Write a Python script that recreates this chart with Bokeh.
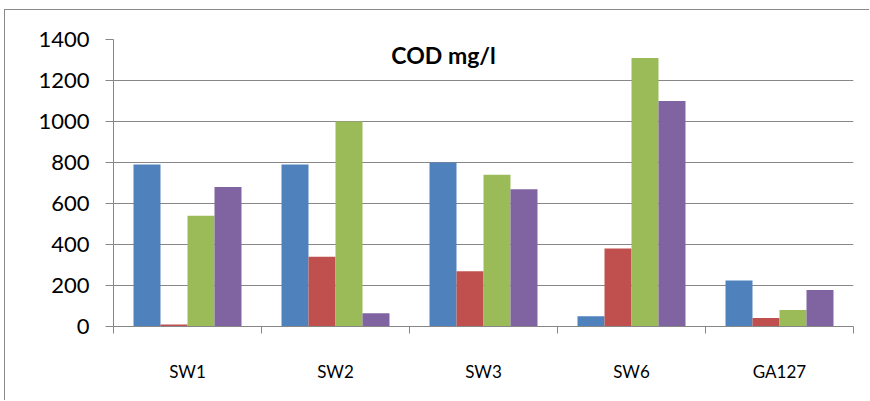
from bokeh.plotting import figure
from bokeh.models import ColumnDataSource, FixedTicker, Label, Range1d
from bokeh.transform import dodge
from bokeh.embed import file_html
from bokeh.resources import INLINE

categories = ["SW1", "SW2", "SW3", "SW6", "GA127"]
series_blue = [790, 790, 800, 50, 225]
series_red = [10, 340, 270, 380, 42]
series_green = [540, 1000, 740, 1310, 80]
series_purple = [680, 65, 670, 1100, 178]
y_ticks = [0, 200, 400, 600, 800, 1000, 1200, 1400]
title_text = "COD mg/l"

colors = ["#4F81BD", "#C0504D", "#9BBB59", "#8064A2"]
series_keys = ["blue", "red", "green", "purple"]

centers = [i + 0.5 for i in range(len(categories))]
source = ColumnDataSource(dict(
    x=centers,
    blue=series_blue, red=series_red, green=series_green, purple=series_purple,
))

p = figure(width=865, height=391, output_backend="svg", toolbar_location=None,
           x_range=Range1d(0, len(categories)), y_range=Range1d(0, 1400),
           min_border_left=108, min_border_right=17, min_border_top=29, min_border_bottom=75)
p.styles = {"margin-left": "4px", "margin-top": "9px",
            "border-left": "1px solid #8a8a8a", "border-top": "1px solid #8a8a8a"}
p.outline_line_color = None
p.background_fill_color = "white"
p.border_fill_color = "white"

bar_w = 0.1824
offsets = [-1.5 * bar_w, -0.5 * bar_w, 0.5 * bar_w, 1.5 * bar_w]
for key, col, off in zip(series_keys, colors, offsets):
    p.vbar(x=dodge("x", off, range=p.x_range), top=key, width=bar_w, bottom=0,
           source=source, fill_color=col, line_color=None)

grid_color = "#878787"
# y axis
p.yaxis.ticker = FixedTicker(ticks=y_ticks)
p.yaxis.axis_line_color = grid_color
p.yaxis.major_tick_line_color = grid_color
p.yaxis.major_tick_out = 8
p.yaxis.major_tick_in = 0
p.yaxis.minor_tick_line_color = None
p.yaxis.major_label_text_font = "Lato"
p.yaxis.major_label_text_font_size = "22px"
p.yaxis.major_label_text_color = "black"
p.yaxis.major_label_standoff = 16

# x axis
p.xaxis.ticker = FixedTicker(ticks=centers, minor_ticks=[float(i) for i in range(len(categories) + 1)])
p.xaxis.major_label_overrides = {c: lab for c, lab in zip(centers, categories)}
p.xaxis.axis_line_color = grid_color
p.xaxis.major_tick_line_color = None
p.xaxis.major_tick_out = 0
p.xaxis.major_tick_in = 0
p.xaxis.minor_tick_line_color = grid_color
p.xaxis.minor_tick_out = 7
p.xaxis.minor_tick_in = 0
p.xaxis.major_label_text_font = "Lato"
p.xaxis.major_label_text_font_size = "17px"
p.xaxis.major_label_text_color = "black"
p.xaxis.major_label_standoff = 27

p.xgrid.grid_line_color = None
p.ygrid.grid_line_color = grid_color
p.ygrid.grid_line_width = 1

p.add_layout(Label(x=2.23, y=1322, text=title_text, text_align="center",
                   text_baseline="alphabetic", text_font="Lato", text_font_style="bold",
                   text_font_size="23px", text_color="black"))

open("out.html", "w").write(file_html(p, INLINE))
